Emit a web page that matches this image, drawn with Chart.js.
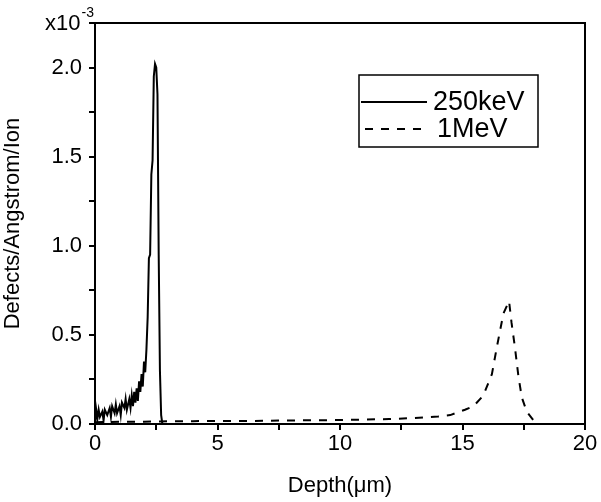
<!DOCTYPE html>
<html>
<head>
<meta charset="utf-8">
<script src="https://cdn.jsdelivr.net/npm/chart.js@4.4.0/dist/chart.umd.min.js"></script>
<style>
html,body{margin:0;padding:0;background:#fff;}
#wrap{width:601px;height:502px;position:relative;}
</style>
</head>
<body>
<div id="wrap"><canvas id="c" width="601" height="502"></canvas></div>
<script>
// Depth in micrometres, defects in units of 1e-3 defects/Angstrom/Ion
const depth250 = [0, 0.05, 0.1, 0.15, 0.2, 0.3, 0.35, 0.4, 0.5, 0.6, 0.65, 0.7, 0.8, 0.85, 0.9, 1.0, 1.05, 1.1, 1.2, 1.25, 1.3, 1.4, 1.45, 1.5, 1.55, 1.6, 1.65, 1.7, 1.75, 1.8, 1.85, 1.9, 1.95, 2.0, 2.05, 2.1, 2.15, 2.2, 2.25, 2.3, 2.35, 2.4, 2.45, 2.5, 2.55, 2.6, 2.65, 2.7, 2.75];
const defects250 = [0, 0.08, 0.03, 0.08, 0.04, 0.07, 0.02, 0.08, 0.05, 0.09, 0.04, 0.10, 0.06, 0.11, 0.06, 0.10, 0.05, 0.12, 0.09, 0.14, 0.08, 0.14, 0.09, 0.16, 0.10, 0.18, 0.12, 0.20, 0.13, 0.24, 0.18, 0.28, 0.21, 0.35, 0.29, 0.42, 0.60, 0.93, 0.95, 1.40, 1.48, 1.95, 2.02, 2.00, 1.85, 0.95, 0.30, 0.05, 0.0];
const depth1M = [0, 1, 2, 3, 4, 5, 6, 7, 8, 9, 10, 11, 12, 13, 14, 14.5, 14.8, 15.1, 15.45, 15.85, 16.2, 16.4, 16.67, 16.9, 17.0, 17.14, 17.28, 17.42, 17.62, 17.9, 18.0];
const defects1M = [0.01, 0.012, 0.013, 0.015, 0.016, 0.017, 0.017, 0.018, 0.02, 0.021, 0.022, 0.025, 0.028, 0.033, 0.042, 0.05, 0.065, 0.08, 0.10, 0.16, 0.28, 0.43, 0.62, 0.69, 0.57, 0.43, 0.27, 0.15, 0.07, 0.02, 0.0];
const seriesLabels = ['250keV', '1MeV'];
const xTitle = 'Depth(\u03bcm)';
const yTitle = 'Defects/Angstrom/Ion';
const yMultiplier = ['x10', '-3'];

const FONT = "'Liberation Sans', Arial, sans-serif";

function pts(xs, ys){ return xs.map((x,i)=>({x:x, y:ys[i]})); }

const frame = {
  id:'frame',
  afterDraw(chart){
    const ctx = chart.ctx, a = chart.chartArea;
    ctx.save();
    ctx.strokeStyle = '#000';
    ctx.lineWidth = 2;
    ctx.strokeRect(a.left, a.top, a.right - a.left, a.bottom - a.top);
    // multiplier
    ctx.fillStyle = '#000';
    ctx.textBaseline = 'alphabetic';
    ctx.textAlign = 'left';
    ctx.font = '22px ' + FONT;
    ctx.fillText(yMultiplier[0], 45, 30);
    const w = ctx.measureText(yMultiplier[0]).width;
    ctx.font = '14px ' + FONT;
    ctx.fillText(yMultiplier[1], 45 + w + 1, 17);
    // legend
    const lx = 359, ly = 75, lw = 179, lh = 72;
    ctx.lineWidth = 1.5;
    ctx.strokeRect(lx, ly, lw, lh);
    const ds = chart.data.datasets;
    ctx.font = '27px ' + FONT;
    ctx.textBaseline = 'middle';
    ctx.lineWidth = 2;
    ctx.setLineDash([]);
    ctx.beginPath(); ctx.moveTo(361, 102); ctx.lineTo(427, 102); ctx.stroke();
    ctx.fillText(ds[0].label, 433, 103);
    ctx.setLineDash([8, 8]);
    ctx.beginPath(); ctx.moveTo(365, 129); ctx.lineTo(422, 129); ctx.stroke();
    ctx.setLineDash([]);
    ctx.fillText(ds[1].label, 437, 130);
    ctx.restore();
  }
};

new Chart(document.getElementById('c'), {
  type: 'line',
  data: {
    datasets: [
      { label: seriesLabels[0], data: pts(depth250, defects250), borderColor: '#000', borderWidth: 2, pointRadius: 0, tension: 0, fill: false },
      { label: seriesLabels[1], data: pts(depth1M, defects1M), borderColor: '#000', borderWidth: 2, borderDash: [8, 8], pointRadius: 0, tension: 0, fill: false }
    ]
  },
  options: {
    responsive: false,
    animation: false,
    devicePixelRatio: 1,
    layout: { padding: { top: 23, right: 16, left: 0, bottom: 0 } },
    plugins: { legend: { display: false }, tooltip: { enabled: false } },
    scales: {
      x: {
        type: 'linear', min: 0, max: 20,
        afterFit(s){ s.height = 78; },
        border: { display: false },
        grid: { drawOnChartArea: false, drawTicks: true, tickLength: 6, color: '#000', lineWidth: 2 },
        ticks: {
          stepSize: 2.5, color: '#000', font: { size: 22, family: FONT }, padding: 1, maxRotation: 0, autoSkip: false,
          callback: v => (Math.abs(v % 5) < 1e-9 ? String(v) : '')
        },
        title: { display: true, text: xTitle, color: '#000', font: { size: 22, family: FONT }, padding: { top: 0, bottom: 3 } }
      },
      y: {
        type: 'linear', min: 0, max: 2.25,
        afterFit(s){ s.width = 95; },
        border: { display: false },
        grid: { drawOnChartArea: false, drawTicks: true, tickLength: 6, color: '#000', lineWidth: 2 },
        ticks: {
          stepSize: 0.25, color: '#000', font: { size: 22, family: FONT }, padding: 7, autoSkip: false,
          callback: v => (Math.abs(v % 0.5) < 1e-9 ? v.toFixed(1) : '')
        },
        title: { display: true, text: yTitle, color: '#000', font: { size: 22, family: FONT }, padding: { top: 0, bottom: 0 } }
      }
    }
  },
  plugins: [frame]
});
</script>
</body>
</html>
